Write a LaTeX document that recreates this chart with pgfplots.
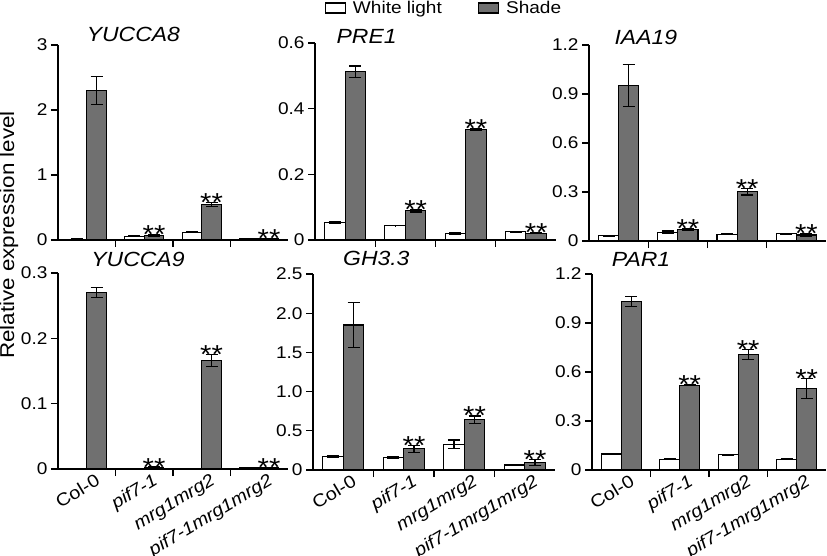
\documentclass[border=0pt]{standalone}
\usepackage{pgfplots}
\pgfplotsset{compat=1.18}
\usepackage{fontspec}
\setmainfont{Liberation Sans}[FakeStretch=1.12]

\definecolor{shadegray}{RGB}{112,112,112}

\pgfplotsset{
  panel/.style={
    scale only axis, anchor=south west,
    xmin=-0.5, xmax=3.5, ymin=0,
    axis lines*=left, axis line style={line width=1.2pt, -},
    tick align=outside, major tick length=7pt,
    tick style={line width=1.2pt, black},
    xtick={0.5,1.5,2.5}, xticklabels={,,},
    extra x ticks={0,1,2,3},
    extra x tick labels={Col-0,\textit{pif7-1},\textit{mrg1mrg2},\textit{pif7-1mrg1mrg2}},
    extra x tick style={major tick length=0pt, tick style={draw=none}},
    /pgf/number format/assume math mode=true,
    yticklabel style={font=\fontsize{17}{17}\selectfont},
    xticklabel style={font=\fontsize{17.8}{17.8}\selectfont, xshift=9pt, yshift=1pt, rotate=31, anchor=north east},
    title style={anchor=base west, font=\fontsize{20.5}{20.5}\selectfont\itshape},
  },
  notext/.style={extra x tick labels={,,,}},
  wbar/.style={ybar, bar width=0.34, bar shift=-0.17, fill=white, draw=black, line width=1.1pt},
  sbar/.style={ybar, bar width=0.34, bar shift=0.17, fill=shadegray, draw=black, line width=1.1pt},
  ebar/.style={forget plot, draw=none, mark=none,
    error bars/y dir=both, error bars/y explicit, error bars/error mark=|,
    error bars/error bar style={draw=black, line width=1.2pt, solid},
    error bars/error mark options={draw=black, mark size=6pt, line width=1.2pt}},
  stars/.style={forget plot, only marks, mark=*, mark size=0pt, mark options={draw=none, fill=none},
    nodes near coords, point meta=explicit symbolic,
    every node near coord/.append style={anchor=base, yshift=-9pt, inner sep=0pt, font=\fontsize{26}{26}\selectfont}},
  boxlegend/.style={legend image code/.code={\draw[##1, line width=1.2pt] (0pt,-5pt) rectangle (20pt,5pt);}},
}

\begin{document}
\begin{tikzpicture}
\useasboundingbox (0,0) rectangle (827pt,555pt);

% YUCCA8
\begin{axis}[panel, notext, at={(58pt,315pt)}, width=230pt, height=195pt,
  ymax=3, ytick={0,1,2,3}, yticklabels={0,1,2,3},
  title={YUCCA8}, title style={at={(axis description cs:0.11,0.985)}}]
\addplot[wbar] coordinates {(0,0.012) (1,0.06) (2,0.12) (3,0.02)};
\addplot[sbar] coordinates {(0,2.30) (1,0.07) (2,0.55) (3,0.02)};
\addplot[ebar] coordinates {(-0.17,0.012) +- (0,0.002) (0.83,0.06) +- (0,0.005) (1.83,0.12) +- (0,0.01) (2.83,0.02) +- (0,0.003)};
\addplot[ebar] coordinates {(0.17,2.30) +- (0,0.21) (1.17,0.07) +- (0,0.01) (2.17,0.55) +- (0,0.03) (3.17,0.02) +- (0,0.003)};
\addplot[stars] coordinates {(1.17,0.08) [**] (2.17,0.58) [**] (3.17,0.025) [**]};
\end{axis}

% PRE1
\begin{axis}[panel, notext, at={(315pt,315pt)}, width=241pt, height=197pt,
  ymax=0.6, ytick={0,0.2,0.4,0.6}, yticklabels={0,0.2,0.4,0.6},
  title={PRE1}, title style={at={(axis description cs:0.075,0.965)}},
  legend columns=2,
  legend style={at={(axis description cs:0.535,1.178)}, anchor=center, draw=none, fill=none,
    font=\fontsize{17}{17}\selectfont,
    /tikz/every odd column/.append style={column sep=5pt},
    /tikz/every even column/.append style={column sep=34pt}}]
\addplot[wbar, boxlegend] coordinates {(0,0.053) (1,0.044) (2,0.020) (3,0.025)};
\addlegendentry{White light}
\addplot[sbar, boxlegend] coordinates {(0,0.512) (1,0.089) (2,0.337) (3,0.021)};
\addlegendentry{Shade}
\addplot[ebar] coordinates {(-0.17,0.053) +- (0,0.003) (0.83,0.044) +- (0,0.001) (1.83,0.020) +- (0,0.002) (2.83,0.025) +- (0,0.002)};
\addplot[ebar] coordinates {(0.17,0.512) +- (0,0.018) (1.17,0.089) +- (0,0.004) (2.17,0.337) +- (0,0.003) (3.17,0.021) +- (0,0.002)};
\addplot[stars] coordinates {(1.17,0.093) [**] (2.17,0.340) [**] (3.17,0.023) [**]};
\end{axis}

% IAA19
\begin{axis}[panel, notext, at={(589pt,314pt)}, width=237pt, height=196pt,
  ymax=1.2, ytick={0,0.3,0.6,0.9,1.2}, yticklabels={0,0.3,0.6,0.9,1.2},
  title={IAA19}, title style={at={(axis description cs:0.093,0.97)}}]
\addplot[wbar] coordinates {(0,0.033) (1,0.053) (2,0.041) (3,0.045)};
\addplot[sbar] coordinates {(0,0.951) (1,0.069) (2,0.302) (3,0.037)};
\addplot[ebar] coordinates {(-0.17,0.033) +- (0,0.002) (0.83,0.053) +- (0,0.008) (1.83,0.041) +- (0,0.003) (2.83,0.045) +- (0,0.003)};
\addplot[ebar] coordinates {(0.17,0.951) +- (0,0.128) (1.17,0.069) +- (0,0.005) (2.17,0.302) +- (0,0.02) (3.17,0.037) +- (0,0.008)};
\addplot[stars] coordinates {(1.17,0.074) [**] (2.17,0.322) [**] (3.17,0.045) [**]};
\end{axis}

% YUCCA9
\begin{axis}[panel, at={(58pt,86pt)}, width=230pt, height=196pt,
  ymax=0.3, ytick={0,0.1,0.2,0.3}, yticklabels={0,0.1,0.2,0.3},
  title={YUCCA9}, title style={at={(axis description cs:0.13,1.005)}},
  ylabel={Relative expression level},
  ylabel style={at={(axis description cs:-0.213,1.194)}, anchor=center, font=\fontsize{20}{20}\selectfont}]
\addplot[wbar] coordinates {(0,0.001) (1,0.0005) (2,0.001) (3,0.0015)};
\addplot[sbar] coordinates {(0,0.270) (1,0.0025) (2,0.166) (3,0.0025)};
\addplot[ebar] coordinates {(0.17,0.270) +- (0,0.008) (1.17,0.0025) +- (0,0.0005) (2.17,0.166) +- (0,0.009) (3.17,0.0025) +- (0,0.0003)};
\addplot[stars] coordinates {(1.17,0.003) [**] (2.17,0.175) [**] (3.17,0.003) [**]};
\end{axis}

% GH3.3
\begin{axis}[panel, at={(313pt,85pt)}, width=242pt, height=196pt,
  ymax=2.5, ytick={0,0.5,1,1.5,2,2.5}, yticklabels={0,0.5,1.0,1.5,2.0,2.5},
  title={GH3.3}, title style={at={(axis description cs:0.11,1.015)}}]
\addplot[wbar] coordinates {(0,0.17) (1,0.157) (2,0.327) (3,0.064)};
\addplot[sbar] coordinates {(0,1.85) (1,0.27) (2,0.64) (3,0.098)};
\addplot[ebar] coordinates {(-0.17,0.17) +- (0,0.01) (0.83,0.157) +- (0,0.01) (1.83,0.327) +- (0,0.055) (2.83,0.064) +- (0,0.005)};
\addplot[ebar] coordinates {(0.17,1.85) +- (0,0.285) (1.17,0.27) +- (0,0.045) (2.17,0.64) +- (0,0.05) (3.17,0.098) +- (0,0.04)};
\addplot[stars] coordinates {(1.17,0.315) [**] (2.17,0.69) [**] (3.17,0.14) [**]};
\end{axis}

% PAR1
\begin{axis}[panel, at={(592pt,85pt)}, width=234pt, height=196pt,
  ymax=1.2, ytick={0,0.3,0.6,0.9,1.2}, yticklabels={0,0.3,0.6,0.9,1.2},
  title={PAR1}, title style={at={(axis description cs:0.07,1.01)}}]
\addplot[wbar] coordinates {(0,0.098) (1,0.067) (2,0.094) (3,0.065)};
\addplot[sbar] coordinates {(0,1.03) (1,0.52) (2,0.708) (3,0.50)};
\addplot[ebar] coordinates {(0.83,0.067) +- (0,0.005) (1.83,0.094) +- (0,0.002) (2.83,0.065) +- (0,0.002)};
\addplot[ebar] coordinates {(0.17,1.03) +- (0,0.03) (1.17,0.52) +- (0,0.002) (2.17,0.708) +- (0,0.03) (3.17,0.50) +- (0,0.06)};
\addplot[stars] coordinates {(1.17,0.522) [**] (2.17,0.74) [**] (3.17,0.56) [**]};
\end{axis}
\end{tikzpicture}
\end{document}
